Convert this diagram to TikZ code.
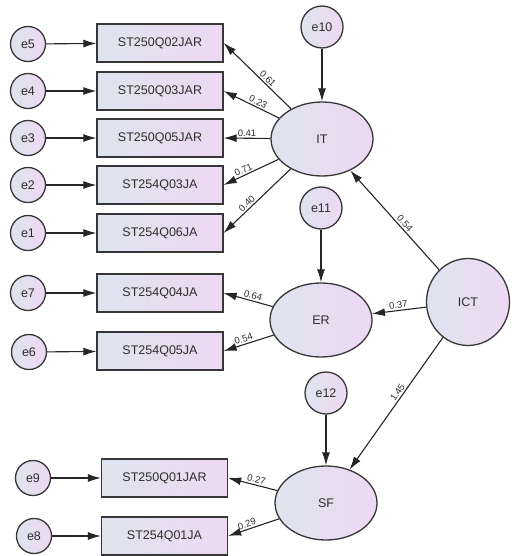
\documentclass[tikz,border=0pt]{standalone}
\usepackage{fontspec}
\setmainfont{Liberation Sans}
\usetikzlibrary{arrows.meta,shapes.geometric}
\definecolor{fillL}{RGB}{222,228,238}
\definecolor{fillR}{RGB}{238,216,243}
\definecolor{edgegray}{RGB}{55,55,55}
\definecolor{txtgray}{RGB}{45,45,45}
\begin{document}
\begin{tikzpicture}[x=1pt,y=-1pt,>={Latex[length=13pt,width=8pt]},
    every node/.style={text=txtgray},
    obs/.style={draw=edgegray,line width=1.3pt,left color=fillL,right color=fillR,
        minimum width=126pt,minimum height=38pt,inner sep=0pt,font=\fontsize{12.5}{14}\selectfont},
    err/.style={circle,draw=edgegray,line width=1.3pt,left color=fillL,right color=fillR,
        minimum size=35pt,inner sep=0pt,font=\fontsize{12.5}{14}\selectfont},
    dist/.style={err,minimum size=42pt},
    lat/.style={ellipse,draw=edgegray,line width=1.3pt,left color=fillL,right color=fillR,
        minimum width=102pt,minimum height=74pt,inner sep=0pt,font=\fontsize{12.5}{14}\selectfont},
    coef/.style={font=\fontsize{9.5}{10}\selectfont,sloped,above,inner sep=1.5pt},
    path/.style={->,draw=black!85,line width=1.1pt}]
    \useasboundingbox (0,0) rectangle (516,556);
    % indicatori
    \node[obs] (q1) at (160,43) {ST250Q02JAR};
    \node[obs] (q2) at (160,91) {ST250Q03JAR};
    \node[obs] (q3) at (160,138) {ST250Q05JAR};
    \node[obs] (q4) at (160,185) {ST254Q03JA};
    \node[obs] (q5) at (160,233) {ST254Q06JA};
    \node[obs] (q6) at (160,293) {ST254Q04JA};
    \node[obs] (q7) at (160,351) {ST254Q05JA};
    \node[obs] (q8) at (164.5,478) {ST250Q01JAR};
    \node[obs] (q9) at (164.5,536) {ST254Q01JA};
    % errori
    \node[err] (e5) at (28,44) {e5};
    \node[err] (e4) at (28,91) {e4};
    \node[err] (e3) at (28,138) {e3};
    \node[err] (e2) at (28,185) {e2};
    \node[err] (e1) at (28,233) {e1};
    \node[err] (e7) at (28,293) {e7};
    \node[err] (e6) at (29,352) {e6};
    \node[err] (e9) at (33,478) {e9};
    \node[err] (e8) at (34,536) {e8};
    % latenti
    \node[lat] (IT) at (322,139) {IT};
    \node[lat] (ER) at (321,320) {ER};
    \node[lat] (SF) at (326,503) {SF};
    \node[lat,minimum width=83pt,minimum height=87pt] (ICT) at (468,302) {ICT};
    \node[dist] (e10) at (322,27) {e10};
    \node[dist] (e11) at (321,208) {e11};
    \node[dist] (e12) at (326,393) {e12};
    % errori -> indicatori
    \draw[path] (e5) -- (q1);
    \draw[path] (e4) -- (q2);
    \draw[path] (e3) -- (q3);
    \draw[path] (e2) -- (q4);
    \draw[path] (e1) -- (q5);
    \draw[path] (e7) -- (q6);
    \draw[path] (e6) -- (q7);
    \draw[path] (e9) -- (q8);
    \draw[path] (e8) -- (q9);
    \draw[path] (e10) -- (IT);
    \draw[path] (e11) -- (ER);
    \draw[path] (e12) -- (SF);
    % saturazioni
    \draw[path] (IT) -- node[coef,pos=0.4] {0.61} (q1.east);
    \draw[path] (IT) -- node[coef,pos=0.42] {0.23} (q2.east);
    \draw[path] (IT) -- node[coef,pos=0.5] {0.41} (q3.east);
    \draw[path] (IT) -- node[coef,pos=0.6] {0.71} (q4.east);
    \draw[path] (IT) -- node[coef,pos=0.6] {0.40} (q5.east);
    \draw[path] (ER) -- node[coef,pos=0.43] {0.64} (q6.east);
    \draw[path] (ER) -- node[coef,pos=0.57] {0.54} (q7.east);
    \draw[path] (SF) -- node[coef,pos=0.45] {0.27} (q8.east);
    \draw[path] (SF) -- node[coef,pos=0.6] {0.29} (q9.east);
    % effetti strutturali
    \draw[path] (ICT) -- node[coef,pos=0.43] {0.54} (IT);
    \draw[path] (ICT) -- node[coef,pos=0.5] {0.37} (ER);
    \draw[path] (ICT) -- node[coef,pos=0.44] {1.45} (SF);
\end{tikzpicture}
\end{document}
